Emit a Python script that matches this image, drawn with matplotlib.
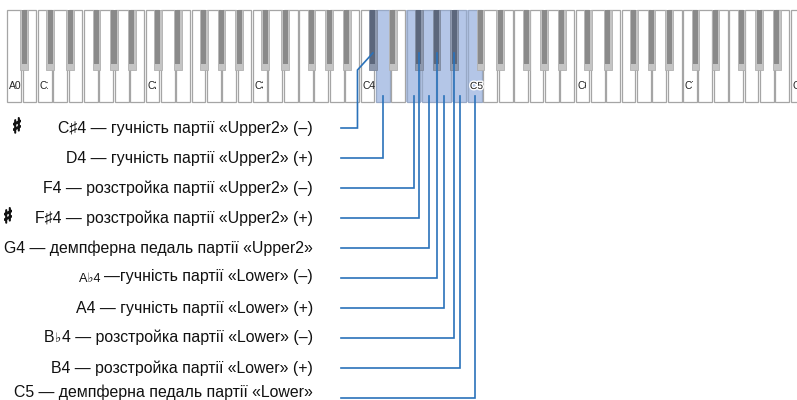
import matplotlib
matplotlib.use("Agg")
import matplotlib.pyplot as plt
from matplotlib.patches import Rectangle
from matplotlib.offsetbox import TextArea, HPacker, AnnotationBbox
from matplotlib.transforms import Bbox, TransformedBbox
import matplotlib.patheffects as pe

plt.rcParams['font.family'] = ['Liberation Sans', 'DejaVu Sans']

# ---------------- data ----------------
WHITE_NAMES = ['C', 'D', 'E', 'F', 'G', 'A', 'B']
FIRST_OCTAVE = ['A', 'B']          # A0, B0 then C1..C8
N_WHITE = 52
HIGHLIGHT_WHITE = ['D4', 'F4', 'G4', 'A4', 'B4', 'C5']
HIGHLIGHT_BLACK = ['C#4', 'F#4', 'G#4', 'A#4']
KEY_LABELS = ['A0', 'C1', 'C2', 'C3', 'C4', 'C5', 'C6', 'C7', 'C8']
CLIPPED_LABELS = ['C1', 'C2', 'C3', 'C6', 'C7', 'C8']

TARGET_NOTES = ['C#4', 'D4', 'F4', 'F#4', 'G4', 'G#4', 'A4', 'A#4', 'B4', 'C5']
LABEL_TEXTS = [
    'C♯4 — гучність партії «Upper2» (–)',
    'D4 — гучність партії «Upper2» (+)',
    'F4 — розстройка партії «Upper2» (–)',
    'F♯4 — розстройка партії «Upper2» (+)',
    'G4 — демпферна педаль партії «Upper2»',
    None,
    'A4 — гучність партії «Lower» (+)',
    None,
    'B4 — розстройка партії «Lower» (+)',
    'C5 — демпферна педаль партії «Lower»',
]
SHARP_MARK_ROWS = [0, 3]

# ---------------- layout ----------------
W = 15.36
X0 = 6.5
KEY_TOP, WHITE_BOT, BLACK_BOT = 10, 102, 70
BLACK_W = 0.5 * W
BLACK_OFF = {'C': -0.15, 'D': 0.15, 'F': -0.15, 'G': 0.0, 'A': 0.15}
ROW0, ROW_STEP = 128, 30
LINE_X0, TEXT_X = 341, 313
LINE_COLOR = '#2a72ba'
FS = 11.4

fig = plt.figure(figsize=(7.97, 4.0), dpi=100)
ax = fig.add_axes([0, 0, 1, 1])
ax.set_xlim(0, 797)
ax.set_ylim(400, 0)
ax.axis('off')

# build white keys
whites = []
for i in range(N_WHITE):
    if i < 2:
        name, octv = FIRST_OCTAVE[i], 0
    else:
        name, octv = WHITE_NAMES[(i - 2) % 7], (i - 2) // 7 + 1
    whites.append((name, octv))
white_idx = {f'{n}{o}': i for i, (n, o) in enumerate(whites)}

black_keys = {}
for i, (n, o) in enumerate(whites[:-1]):
    if n in BLACK_OFF:
        cx = X0 + (i + 1 + BLACK_OFF[n]) * W
        black_keys[f'{n}#{o}'] = cx

# highlight backgrounds (continuous)
hl_idx = sorted(white_idx[k] for k in HIGHLIGHT_WHITE)
groups = []
for i in hl_idx:
    if groups and groups[-1][1] == i - 1:
        groups[-1][1] = i
    else:
        groups.append([i, i])
for a, b in groups:
    ax.add_patch(Rectangle((X0 + a * W + 0.6, KEY_TOP), (b - a + 1) * W - 1.2,
                           WHITE_BOT - KEY_TOP, facecolor='#b4c6e7', edgecolor='none', zorder=1))

for i, (n, o) in enumerate(whites):
    key = f'{n}{o}'
    hl = key in HIGHLIGHT_WHITE
    ax.add_patch(Rectangle((X0 + i * W + 0.8, KEY_TOP), W - 1.6, WHITE_BOT - KEY_TOP,
                           facecolor='#b4c6e7' if hl else 'white',
                           edgecolor='#98a9c6' if hl else '#a5a5a5', lw=0.9, zorder=2))

for key, cx in black_keys.items():
    hl = key in HIGHLIGHT_BLACK
    outer = '#8d98ad' if hl else '#c4c4c4'
    inner = '#5c677c' if hl else '#8a8a8a'
    ax.add_patch(Rectangle((cx - BLACK_W / 2, KEY_TOP), BLACK_W, BLACK_BOT - KEY_TOP,
                           facecolor=outer, edgecolor='#b0b0b0' if not hl else '#7d889c',
                           lw=0.6, zorder=3))
    ax.add_patch(Rectangle((cx - BLACK_W / 2 + 1.3, KEY_TOP), BLACK_W - 2.6,
                           BLACK_BOT - KEY_TOP - 6.5, facecolor=inner, edgecolor='none', zorder=3))

# key labels
for lab in KEY_LABELS:
    i = white_idx[lab]
    x = X0 + i * W + 2.6
    t = ax.text(x, 86, lab, fontsize=7.4, va='center', ha='left', color='#222222', zorder=5)
    if lab in CLIPPED_LABELS:
        t.set_clip_on(True)
        t.set_clip_box(TransformedBbox(Bbox([[x - 1, 70], [min(x + 8.5, 797), 100]]),
                                       ax.transData))
    if lab in HIGHLIGHT_WHITE:
        t.set_path_effects([pe.withStroke(linewidth=2, foreground='white')])

# leader lines
for r, note in enumerate(TARGET_NOTES):
    y = ROW0 + r * ROW_STEP
    if '#' in note:
        xk = black_keys[note]
        ytop = 53
    else:
        xk = X0 + (white_idx[note] + 0.5) * W
        ytop = 96
    if r == 0:
        xv = xk - W
        ax.plot([LINE_X0, xv, xv, xk], [y, y, BLACK_BOT, ytop], color=LINE_COLOR,
                lw=1.2, zorder=6, solid_joinstyle='miter')
    else:
        ax.plot([LINE_X0, xk, xk], [y, y, ytop], color=LINE_COLOR, lw=1.2, zorder=6,
                solid_joinstyle='miter')

# text labels
for r, txt in enumerate(LABEL_TEXTS):
    y = ROW0 + r * ROW_STEP
    if r == len(LABEL_TEXTS) - 1:
        y -= 6
    if txt is not None:
        ax.text(TEXT_X, y, txt, fontsize=FS, ha='right', va='center', color='#111111')

# special labels with small flats
def packed(parts, y, sep=0):
    boxes = [TextArea(s, textprops=dict(fontsize=f, color='#111111',
                                        family=['Liberation Sans', 'DejaVu Sans']))
             for s, f in parts]
    hp = HPacker(children=boxes, align='baseline', pad=0, sep=sep)
    ab = AnnotationBbox(hp, (TEXT_X, y), xycoords='data', box_alignment=(1, 0.5),
                        frameon=False, pad=0)
    ax.add_artist(ab)

packed([('A♭4 ', 9.2), ('—гучність партії «Lower» (–)', FS)], ROW0 + 5 * ROW_STEP - 1)
packed([('B', FS), ('♭', 9.5), ('4 — розстройка партії «Lower» (–)', FS)],
       ROW0 + 7 * ROW_STEP - 1, sep=0.6)

for r in SHARP_MARK_ROWS:
    y = ROW0 + r * ROW_STEP
    ax.text(17 if r == 0 else 8, y - 1, '♯', fontsize=15, fontweight='bold', ha='center',
            va='center', color='#111111', family=['DejaVu Sans'],
            path_effects=[pe.withStroke(linewidth=1.0, foreground='#111111')])

fig.savefig('out.png', dpi=100)
